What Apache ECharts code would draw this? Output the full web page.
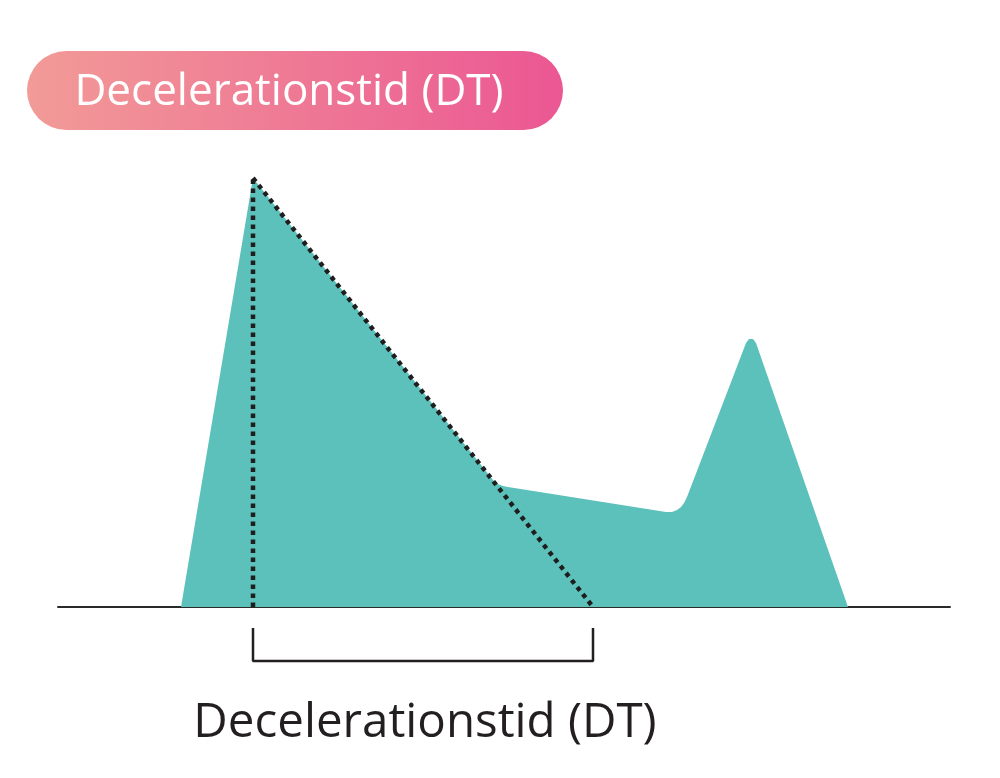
<!DOCTYPE html>
<html><head><meta charset="utf-8">
<script src="https://cdn.jsdelivr.net/npm/echarts@6/dist/echarts.min.js"></script>
<style>html,body{margin:0;padding:0;background:#fff}#c{width:1000px;height:778px}</style>
</head><body><div id="c"></div>
<script>
// Flow profile (time units, velocity units)
const flowTime = [123, 195, 435, 440, 445, 450, 608, 614, 619, 623, 626, 629, 688, 691, 693, 695, 698, 790];
const flowVel  = [0,   429, 127, 123, 121, 120, 95,  95,  97,  100, 104, 110, 264, 268, 269, 268, 264, 0];
// Deceleration time guides
const peakVerticalTime = [195, 195];
const peakVerticalVel  = [0, 429];
const decelSlopeTime = [195, 535];
const decelSlopeVel  = [429, 0];
// Bracket under baseline
const bracketTime = [195, 195, 535, 535];
const bracketVel  = [-21, -54, -54, -21];
const titleText = 'Decelerationstid (DT)';
const bracketLabel = 'Decelerationstid (DT)';

const zip = (a, b) => a.map((v, i) => [v, b[i]]);
const chart = echarts.init(document.getElementById('c'), null, {renderer: 'canvas'});
chart.setOption({
  animation: false,
  backgroundColor: '#ffffff',
  grid: {left: 58, right: 50, top: 107, bottom: 0, containLabel: false},
  xAxis: {type: 'value', min: 0, max: 892,
    axisLine: {show: true, onZero: true, lineStyle: {color: '#2a2a2a', width: 2}},
    axisTick: {show: false}, axisLabel: {show: false}, splitLine: {show: false}},
  yAxis: {type: 'value', min: -171, max: 500, show: false, splitLine: {show: false}},
  series: [
    {type: 'line', data: zip(flowTime, flowVel), symbol: 'none', z: 1,
     lineStyle: {width: 0, color: '#5dc1bb'}, areaStyle: {color: '#5dc1bb', opacity: 1}},
    {type: 'line', data: zip(peakVerticalTime, peakVerticalVel), symbol: 'none', z: 3,
     lineStyle: {color: '#1e1e1e', width: 4.5, type: [4.5, 4.5], cap: 'butt'}},
    {type: 'line', data: zip(decelSlopeTime, decelSlopeVel), symbol: 'none', z: 3,
     lineStyle: {color: '#1e1e1e', width: 4.5, type: [4.5, 4.5], cap: 'butt'}},
    {type: 'line', data: zip(bracketTime, bracketVel), symbol: 'none', z: 3, clip: false,
     lineStyle: {color: '#231f20', width: 2.5}}
  ],
  graphic: [
    {type: 'rect', left: 27, top: 51, z: 10,
     shape: {width: 536, height: 79, r: 39.5},
     style: {fill: new echarts.graphic.LinearGradient(0, 0, 1, 0, [
       {offset: 0, color: '#f29b97'}, {offset: 1, color: '#eb5793'}])}},
    {type: 'text', x: 289, y: 92, z: 11,
     style: {text: titleText, fill: '#ffffff', font: '44px "Open Sans"',
       textAlign: 'center', textVerticalAlign: 'middle'}},
    {type: 'text', x: 425, y: 723, z: 11,
     style: {text: bracketLabel, fill: '#231f20', font: '47.5px "Open Sans"',
       textAlign: 'center', textVerticalAlign: 'middle'}}
  ]
});
</script></body></html>
